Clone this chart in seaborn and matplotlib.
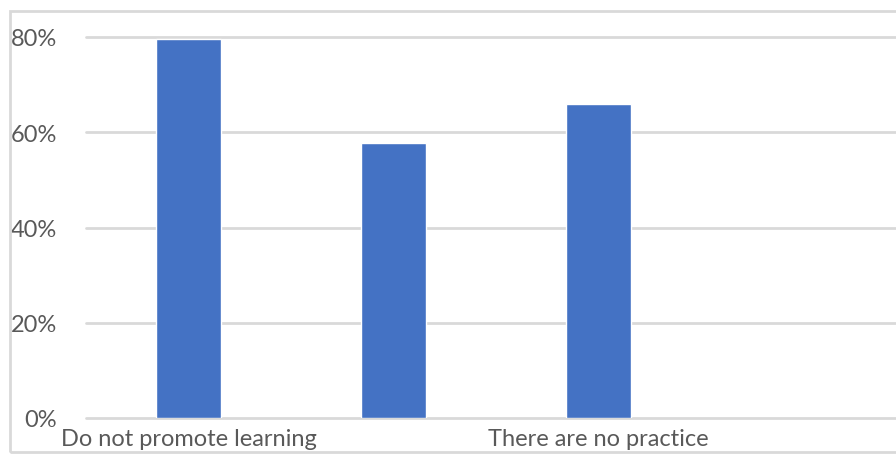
import seaborn as sns
import matplotlib.pyplot as plt
import pandas as pd
from matplotlib.patches import Rectangle
from matplotlib.ticker import PercentFormatter

# data (middle label is not shown in the original)
categories = ['Do not promote learning', '', 'There are no practice']
values = [0.795, 0.578, 0.66]
yticks = [0, 0.2, 0.4, 0.6, 0.8]

df = pd.DataFrame({'cat': categories, 'val': values})

sns.set_style('white')
plt.rcParams['font.family'] = ['Lato', 'DejaVu Sans']
txt = '#595959'
grid = '#d9d9d9'

fig = plt.figure(figsize=(8.96, 4.56), dpi=100)
W, H = 896, 456
# axes spans 4 category slots, the last one runs off the right edge
ax = fig.add_axes([86 / W, 37 / H, 820 / W, 381 / H])

sns.barplot(data=df, x='cat', y='val', color='#4472C4', width=0.317,
            saturation=1, ax=ax, zorder=3)

ax.set_ylim(0, 0.8)
ax.set_xlim(-0.5, 3.5)
ax.set_yticks(yticks)
ax.yaxis.set_major_formatter(PercentFormatter(1.0, decimals=0))
ax.set_xticks([0, 2])
ax.set_xticklabels([categories[0], categories[2]])
ax.tick_params(axis='both', length=0, labelsize=17, colors=txt)
ax.tick_params(axis='y', pad=21)
ax.tick_params(axis='x', pad=7)
ax.set_xlabel('')
ax.set_ylabel('')
for y in yticks:
    ax.axhline(y, color=grid, lw=2, zorder=1, clip_on=False)
for s in ax.spines.values():
    s.set_visible(False)

# outer chart frame
fig.patches.append(Rectangle((10 / W, 3 / H), 1.0, 441 / H, transform=fig.transFigure,
                             fill=False, edgecolor=grid, lw=2))

plt.savefig('out.png', dpi=100)
